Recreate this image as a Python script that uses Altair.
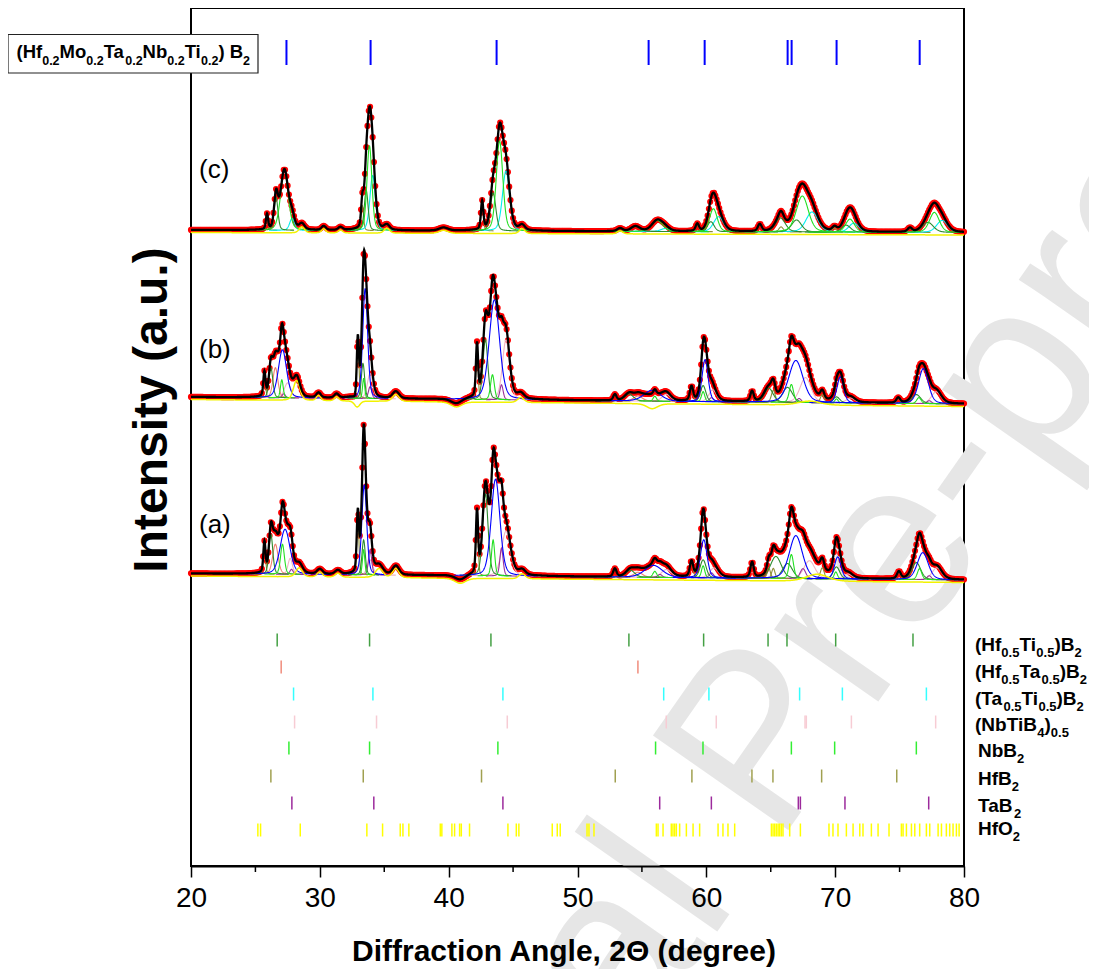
import numpy as np
import pandas as pd
import altair as alt

# ---------------- axis ----------------
X_MIN, X_MAX = 20, 80
X_TICKS = [20, 30, 40, 50, 60, 70, 80]
X_MINOR = [25, 35, 45, 55, 65, 75]

# ---------------- baselines (value at 20 deg, value at 80 deg) ----------------
BASE_A = (292.5, 286.0)
BASE_B = (469.0, 462.0)
BASE_C = (636.0, 633.5)

# ---------------- fitted peak components: (phase, 2theta, height, FWHM) ----------------
PEAKS_A = [
    ("HfB2", 25.7, 30, 0.2), ("HT", 26.2, 40, 0.35), ("HTa", 26.55, 30, 0.5),
    ("NbB2", 27.1, 30, 0.35), ("HEB", 27.3, 45, 0.9), ("NTB", 27.7, 16, 0.4),
    ("TaB2", 27.8, 5, 0.3), ("HfO2", 28.4, 9, 0.6), ("HfO2", 30.0, 5, 0.5),
    ("HfO2", 31.4, 4, 0.5), ("HfB2", 32.95, 58, 0.2), ("HT", 33.4, 35, 0.3),
    ("NbB2", 33.4, 25, 0.22), ("HEB", 33.45, 90, 0.45), ("TaB2", 33.9, 25, 0.3),
    ("NTB", 33.9, 15, 0.5), ("HfO2", 34.6, 9, 0.7), ("HfO2", 35.9, 9, 0.6),
    ("HfO2", 40.9, -5, 1.0), ("HfB2", 42.2, 62, 0.2), ("HT", 42.85, 82, 0.5),
    ("NbB2", 43.45, 36, 0.3), ("HEB", 43.64, 97, 0.8), ("TaB2", 44.1, 28, 0.3),
    ("NTB", 44.45, 45, 0.8), ("HfO2", 45.7, 5, 0.6), ("HfB2", 52.9, 8, 0.3),
    ("HT", 54.1, 7, 0.8), ("HTa", 54.7, 5, 0.8), ("HEB", 55.9, 12, 1.6),
    ("NbB2", 56.0, 6, 0.35), ("TaB2", 56.4, 3, 0.4), ("NTB", 56.9, 8, 0.9),
    ("HfB2", 58.85, 15, 0.3), ("HT", 59.75, 18, 0.55), ("NbB2", 59.75, 12, 0.3),
    ("HEB", 59.8, 38, 0.6), ("TaB2", 60.4, 5, 0.4), ("NTB", 60.6, 10, 0.8),
    ("HfB2", 63.55, 15, 0.3), ("HfB2", 64.85, 10, 0.3), ("HfB2", 65.2, 10, 0.3),
    ("HT", 65.4, 22, 1.0), ("HT", 66.3, 15, 0.9), ("NbB2", 66.6, 24, 0.4),
    ("HEB", 66.95, 43, 1.2), ("TaB2", 67.5, 10, 0.5), ("NTB", 68.0, 18, 1.0),
    ("HfO2", 68.6, 7, 2.0), ("HfB2", 69.0, 11, 0.35), ("HT", 70.1, 12, 0.6),
    ("NbB2", 70.05, 7, 0.3), ("HEB", 70.2, 22, 0.6), ("NTB", 71.0, 5, 0.8),
    ("HfB2", 74.95, 7, 0.35), ("HT", 76.3, 17, 0.8), ("NbB2", 76.55, 11, 0.4),
    ("HEB", 76.8, 27, 1.0), ("TaB2", 77.3, 4, 0.4), ("NTB", 77.9, 12, 0.9),
]

PEAKS_B = [
    ("HfB2", 25.7, 24, 0.2), ("HT", 26.2, 30, 0.35), ("HTa", 26.55, 30, 0.45),
    ("HEB", 27.1, 48, 0.75), ("NbB2", 27.05, 18, 0.25), ("TaB2", 27.2, 4, 0.3),
    ("NTB", 27.5, 15, 0.6), ("HfO2", 28.2, 20, 0.6), ("HfO2", 29.9, 5, 0.4),
    ("HfO2", 31.3, 4, 0.4), ("HfO2", 32.9, -6, 0.5), ("HfB2", 32.95, 62, 0.2),
    ("HT", 33.35, 35, 0.3), ("NbB2", 33.4, 20, 0.2), ("HEB", 33.52, 110, 0.45),
    ("NTB", 33.9, 25, 0.5), ("TaB2", 33.9, 12, 0.3), ("HfO2", 35.9, 7, 0.6),
    ("HfO2", 40.6, -5, 1.0), ("HfB2", 42.2, 52, 0.2), ("HT", 42.85, 60, 0.45),
    ("NbB2", 43.4, 25, 0.35), ("HEB", 43.55, 100, 0.95), ("TaB2", 44.1, 15, 0.3),
    ("NTB", 44.45, 60, 0.65), ("HfO2", 45.6, 5, 0.6), ("HfB2", 52.9, 6, 0.3),
    ("HT", 54.0, 7, 0.8), ("HTa", 54.7, 5, 0.8), ("HEB", 55.8, 11, 1.5),
    ("NbB2", 56.0, 5, 0.3), ("HfO2", 55.8, -5, 1.0), ("NTB", 56.9, 7, 0.8),
    ("HfB2", 58.85, 14, 0.3), ("HT", 59.75, 16, 0.5), ("NbB2", 59.75, 10, 0.3),
    ("HEB", 59.9, 42, 0.55), ("TaB2", 60.4, 4, 0.4), ("NTB", 60.5, 12, 0.7),
    ("HfB2", 63.55, 10, 0.3), ("HT", 64.85, 14, 0.8), ("HfB2", 65.2, 12, 0.35),
    ("HT", 66.3, 15, 0.9), ("NbB2", 66.6, 18, 0.4), ("HEB", 66.95, 42, 1.3),
    ("TaB2", 67.2, 4, 0.4), ("NTB", 67.7, 25, 1.0), ("HfO2", 68.0, 4, 2.0),
    ("HfB2", 69.0, 8, 0.35), ("HT", 70.1, 6, 0.6), ("NbB2", 70.1, 4, 0.3),
    ("HEB", 70.4, 26, 0.6), ("NTB", 71.2, 5, 0.8), ("HfB2", 74.9, 5, 0.35),
    ("HT", 76.3, 9, 0.8), ("NbB2", 76.5, 6, 0.4), ("HEB", 76.85, 35, 0.9),
    ("TaB2", 77.3, 3, 0.4), ("NTB", 77.85, 12, 0.9),
]

PEAKS_C = [
    ("HfB2", 25.9, 15, 0.2), ("HT", 26.6, 33, 0.35), ("NbB2", 27.25, 60, 0.7),
    ("TT", 27.85, 12, 0.45), ("HfO2", 28.6, 6, 0.5), ("HfO2", 30.3, 4, 0.4),
    ("HfO2", 31.6, 3, 0.4), ("HfB2", 33.3, 25, 0.22), ("HT", 33.6, 40, 0.35),
    ("NbB2", 33.85, 85, 0.45), ("TT", 34.1, 55, 0.5), ("HfO2", 35.2, 5, 0.5),
    ("HfO2", 39.6, 3, 0.8), ("HfB2", 42.6, 28, 0.22), ("HT", 43.45, 38, 0.5),
    ("NbB2", 43.95, 90, 0.6), ("TT", 44.45, 60, 0.65), ("HfO2", 45.7, 5, 0.5),
    ("HfO2", 53.3, 3, 0.5), ("HT", 54.5, 5, 0.8), ("NbB2", 56.2, 11, 1.0),
    ("TT", 56.8, 3, 0.8), ("HfB2", 59.3, 7, 0.3), ("HT", 60.35, 10, 0.6),
    ("NbB2", 60.55, 23, 0.7), ("TT", 60.95, 15, 0.9), ("HfB2", 64.15, 7, 0.35),
    ("HfB2", 65.8, 5, 0.4), ("HT", 65.75, 14, 0.9), ("HT", 67.0, 12, 0.9),
    ("NbB2", 67.45, 36, 1.1), ("TT", 68.2, 20, 1.1), ("HfB2", 69.95, 4, 0.4),
    ("HT", 70.85, 7, 0.8), ("NbB2", 71.15, 13, 0.8), ("TT", 71.45, 9, 0.9),
    ("HfB2", 75.8, 4, 0.4), ("HT", 77.2, 10, 1.0), ("NbB2", 77.7, 20, 0.9),
    ("TT", 78.3, 12, 1.0),
]

# ---------------- reference line positions (2theta) ----------------
REF_HEB = [27.41, 33.94, 43.72, 55.52, 59.87, 66.31, 66.62, 70.11, 76.56]
REF_HT = [26.69, 33.86, 43.28, 53.99, 59.79, 64.79, 66.26, 70.04, 76.04]
REF_HTA = [27.0, 54.69]
REF_TT = [27.96, 34.12, 44.21, 56.69, 60.2, 67.24, 70.56, 77.08]
REF_NTB = [28.04, 34.4, 44.55, 56.89, 60.77, 67.66, 67.76, 71.26, 77.8]
REF_NBB2 = [27.6, 33.86, 43.82, 56.06, 59.74, 66.6, 69.96, 76.3]
REF_HFB2 = [26.2, 33.37, 42.55, 52.93, 58.88, 63.54, 65.17, 68.95, 74.78]
REF_TAB2 = [27.83, 34.19, 44.21, 56.38, 60.39, 67.14, 67.3, 70.76, 77.26]
REF_HFO2 = [25.19, 25.40, 28.48, 33.65, 34.87, 36.24, 36.45, 36.91, 39.35, 39.47,
            40.25, 40.46, 40.85, 40.98, 41.62, 44.6, 45.25, 45.45, 48.04, 48.43,
            48.66, 50.74, 50.89, 51.28, 56.12, 56.25, 56.64, 57.28, 57.41, 57.54,
            57.67, 57.93, 58.45, 58.97, 59.48, 60.91, 61.29, 61.68, 62.2, 65.05,
            65.18, 65.31, 65.44, 65.57, 65.69, 65.82, 65.95, 66.47, 67.3, 69.52,
            69.83, 70.22, 70.87, 71.39, 71.91, 72.16, 72.81, 73.33, 74.18, 75.14,
            75.27, 75.53, 75.92, 76.18, 76.56, 77.08, 77.34, 77.99, 78.25, 78.63,
            78.89, 79.15, 79.41, 79.62]

SAMPLE_LABELS = ["(a)", "(b)", "(c)"]

# ---------------- styles ----------------
LINE_COL = {"HEB": "#0000ff", "HT": "#2e8b2e", "HTa": "#f08070", "TT": "#00eeee",
            "NTB": "#f0b4c4", "NbB2": "#22e022", "HfB2": "#8f8f3a", "TaB2": "#993399",
            "HfO2": "#ffff00"}
REF_ROWS = [  # (positions, colour, row centre page-y)
    (REF_HT, "#44a044", 640), (REF_HTA, "#f08c7c", 667), (REF_TT, "#33ffff", 694),
    (REF_NTB, "#f7ccd4", 722), (REF_NBB2, "#33ee33", 748), (REF_HFB2, "#a0a050", 776),
    (REF_TAB2, "#9c2a9c", 803), (REF_HFO2, "#ffff00", 830),
]
FONT = "Liberation Sans"
PLOT_W, PLOT_H = 773, 858
PAD_L, PAD_T = 183, 0


def px2deg(px):
    return X_MIN + (px - (8 + PAD_L)) / PLOT_W * (X_MAX - X_MIN)


def py2val(py):
    return PLOT_H - (py - (8 + PAD_T))


def pv(x, c, h, w, eta=0.3):
    d = (x - c) / w
    return h * (eta / (1.0 + 4.0 * d * d) + (1.0 - eta) * np.exp(-4.0 * np.log(2.0) * d * d))


def base_at(x, base):
    return base[0] + (base[1] - base[0]) * (x - X_MIN) / (X_MAX - X_MIN)


PATTERNS = [("a", PEAKS_A, BASE_A), ("b", PEAKS_B, BASE_B), ("c", PEAKS_C, BASE_C)]

fit_parts, yel_parts, red_parts, comp_parts = [], [], [], []
for name, peaks, base in PATTERNS:
    xs = np.round(X_MIN + np.arange(0, 3001) * 0.02, 3)
    tot = base_at(xs, base).copy()
    yel = base_at(xs, base) - 2.5
    for ph, c, h, w in peaks:
        tot = tot + pv(xs, c, h, w)
        if ph == "HfO2":
            yel = yel + pv(xs, c, h, w)
    fit_parts.append(pd.DataFrame({"x": xs, "y": tot, "pat": name}))
    yel_parts.append(pd.DataFrame({"x": xs, "y": yel, "pat": name}))
    xr = np.round(X_MIN + np.arange(0, 601) * 0.1, 3)
    tr = base_at(xr, base).copy()
    for ph, c, h, w in peaks:
        tr = tr + pv(xr, c, h, w)
    red_parts.append(pd.DataFrame({"x": xr, "y": tr}))
    for i, (ph, c, h, w) in enumerate(peaks):
        if ph == "HfO2":
            continue
        lo, hi = max(X_MIN, c - 4 * w), min(X_MAX, c + 4 * w)
        n = int((hi - lo) / min(0.02, w / 15)) + 1
        xc = np.linspace(lo, hi, n)
        comp_parts.append(pd.DataFrame({"x": xc, "y": base_at(xc, base) + pv(xc, c, h, w),
                                        "pid": f"{name}{i}", "phase": ph}))

fit_df = pd.concat(fit_parts, ignore_index=True)
yel_df = pd.concat(yel_parts, ignore_index=True)
red_df = pd.concat(red_parts, ignore_index=True)
comp_df = pd.concat(comp_parts, ignore_index=True)

XS = alt.Scale(domain=[X_MIN, X_MAX], nice=False, zero=False)
YS = alt.Scale(domain=[0, PLOT_H], nice=False, zero=False)
X_AXIS = alt.Axis(values=X_TICKS, tickSize=11, tickWidth=1.5, tickColor="black",
                  labelFontSize=28, labelFont=FONT, labelColor="black", labelPadding=7,
                  labelFlush=False, domainColor="black", domainWidth=2, grid=False,
                  title=None, zindex=1)


def xe(f):
    return alt.X(f, type="quantitative", scale=XS, axis=X_AXIS)


def ye(f):
    return alt.Y(f, type="quantitative", scale=YS, axis=None)


layers = []

# watermark of the source page
wm = pd.DataFrame({"t": ["Journal Pre-proof"], "x": [px2deg(760)], "y": [py2val(745)]})
layers.append(alt.Chart(wm).mark_text(font=FONT, fontSize=240, angle=305, color="#e6e6e6",
                                      align="center", baseline="middle")
              .encode(x=xe("x"), y=ye("y"), text="t:N"))

# measured points
layers.append(alt.Chart(red_df).mark_circle(size=38, color="#ff0000", opacity=1)
              .encode(x=xe("x"), y=ye("y")))

# component peaks
for ph in ["NTB", "HTa", "TaB2", "HfB2", "TT", "HT", "NbB2", "HEB"]:
    sub = comp_df[comp_df["phase"] == ph]
    if len(sub) == 0:
        continue
    layers.append(alt.Chart(sub).mark_line(strokeWidth=1.1, color=LINE_COL[ph])
                  .encode(x=xe("x"), y=ye("y"), detail="pid:N"))

# HfO2 / background
layers.append(alt.Chart(yel_df).mark_line(strokeWidth=1.5, color="#f2f200")
              .encode(x=xe("x"), y=ye("y"), detail="pat:N"))

# cumulative fit
layers.append(alt.Chart(fit_df).mark_line(strokeWidth=2.3, color="black")
              .encode(x=xe("x"), y=ye("y"), detail="pat:N"))

# reference stick patterns
ref_rows = []
for pos, col, yc in REF_ROWS:
    for p in pos:
        ref_rows.append({"x": p, "y0": py2val(yc - 6.5), "y1": py2val(yc + 6.5), "col": col})
ref_df = pd.DataFrame(ref_rows)
layers.append(alt.Chart(ref_df).mark_rule(strokeWidth=1.5)
              .encode(x=xe("x"), y=ye("y0"), y2="y1:Q", color=alt.Color("col:N", scale=None)))
top_df = pd.DataFrame({"x": REF_HEB, "y0": py2val(40), "y1": py2val(65)})
layers.append(alt.Chart(top_df).mark_rule(strokeWidth=2, color="#0000ff")
              .encode(x=xe("x"), y=ye("y0"), y2="y1:Q"))

# minor ticks
minor_df = pd.DataFrame({"x": X_MINOR, "y0": py2val(866), "y1": py2val(872)})
layers.append(alt.Chart(minor_df).mark_rule(strokeWidth=1.5, color="black")
              .encode(x=xe("x"), y=ye("y0"), y2="y1:Q"))

# legend box (top-left)
box_df = pd.DataFrame({"x0": [px2deg(8)], "x1": [px2deg(258)],
                       "y0": [py2val(34.5)], "y1": [py2val(73)]})
layers.append(alt.Chart(box_df).mark_rect(fill="white", stroke="#222222", strokeWidth=1.2)
              .encode(x=xe("x0"), x2="x1:Q", y=ye("y0"), y2="y1:Q"))

# text with subscripts
WID = {' ': 278, '(': 333, ')': 333, '.': 278, '0': 556, '2': 556, '4': 556, '5': 556,
       'B': 722, 'H': 722, 'M': 833, 'N': 722, 'O': 778, 'T': 611, 'a': 556, 'b': 611,
       'f': 333, 'i': 278, 'o': 611}


def layout(segs, x0, yb, fs_main, fs_sub, sub_dy):
    out, x = [], x0
    for txt, is_sub in segs:
        fs = fs_sub if is_sub else fs_main
        out.append({"x": px2deg(x), "y": py2val(yb + (sub_dy if is_sub else 0)),
                    "t": txt, "fs": fs})
        x += sum(WID[ch] for ch in txt) / 1000.0 * fs
    return out


BOX_LABEL = [("(Hf", 0), ("0.2", 1), ("Mo", 0), ("0.2", 1), ("Ta", 0), ("0.2", 1),
             ("Nb", 0), ("0.2", 1), ("Ti", 0), ("0.2", 1), (") B", 0), ("2", 1)]
PHASE_LABELS = [
    [("(Hf", 0), ("0.5", 1), ("Ti", 0), ("0.5", 1), (")B", 0), ("2", 1)],
    [("(Hf", 0), ("0.5", 1), ("Ta", 0), ("0.5", 1), (")B", 0), ("2", 1)],
    [("(Ta", 0), ("0.5", 1), ("Ti", 0), ("0.5", 1), (")B", 0), ("2", 1)],
    [("(NbTiB", 0), ("4", 1), (")", 0), ("0.5", 1)],
    [("NbB", 0), ("2", 1)],
    [("HfB", 0), ("2", 1)],
    [("TaB", 0), ("2", 1)],
    [("HfO", 0), ("2", 1)],
]
LABEL_X = [975, 975, 975, 975, 978, 978, 978, 978]
LABEL_Y = [651, 678, 705, 731, 757, 785, 812, 835]

seg_rows = layout(BOX_LABEL, 16.5, 58, 18.5, 12.5, 7)
for segs, lx, ly in zip(PHASE_LABELS, LABEL_X, LABEL_Y):
    seg_rows += layout(segs, lx, ly, 19, 13, 6)
seg_df = pd.DataFrame(seg_rows)
layers.append(alt.Chart(seg_df).mark_text(font=FONT, fontWeight="bold", align="left",
                                          baseline="alphabetic", color="black")
              .encode(x=xe("x"), y=ye("y"), text="t:N",
                      size=alt.Size("fs:Q", scale=None, legend=None)))

# sample labels
samp_df = pd.DataFrame({"t": SAMPLE_LABELS, "x": [px2deg(199)] * 3,
                        "y": [py2val(533), py2val(358), py2val(178)]})
layers.append(alt.Chart(samp_df).mark_text(font=FONT, fontSize=26, align="left",
                                           baseline="alphabetic", color="black")
              .encode(x=xe("x"), y=ye("y"), text="t:N"))

# axis titles
yt_df = pd.DataFrame({"t": ["Intensity (a.u.)"], "x": [px2deg(153)], "y": [py2val(410)]})
layers.append(alt.Chart(yt_df).mark_text(font=FONT, fontSize=48, fontWeight="bold", angle=270,
                                         align="center", baseline="middle", color="black")
              .encode(x=xe("x"), y=ye("y"), text="t:N"))
xt_df = pd.DataFrame({"t": ["Diffraction Angle, 2\u0398 (degree)"], "x": [px2deg(564)],
                      "y": [py2val(961)]})
layers.append(alt.Chart(xt_df).mark_text(font=FONT, fontSize=30, fontWeight="bold",
                                         align="center", baseline="alphabetic", color="black")
              .encode(x=xe("x"), y=ye("y"), text="t:N"))

chart = alt.layer(*layers).properties(
    width=PLOT_W, height=PLOT_H,
    padding={"left": PAD_L, "top": PAD_T, "right": 125, "bottom": 103},
    autosize=alt.AutoSizeParams(type="none"),
    background="white",
).configure_view(stroke="black", strokeWidth=2)

chart.save("out.html", embed_options={"renderer": "svg", "actions": False})
